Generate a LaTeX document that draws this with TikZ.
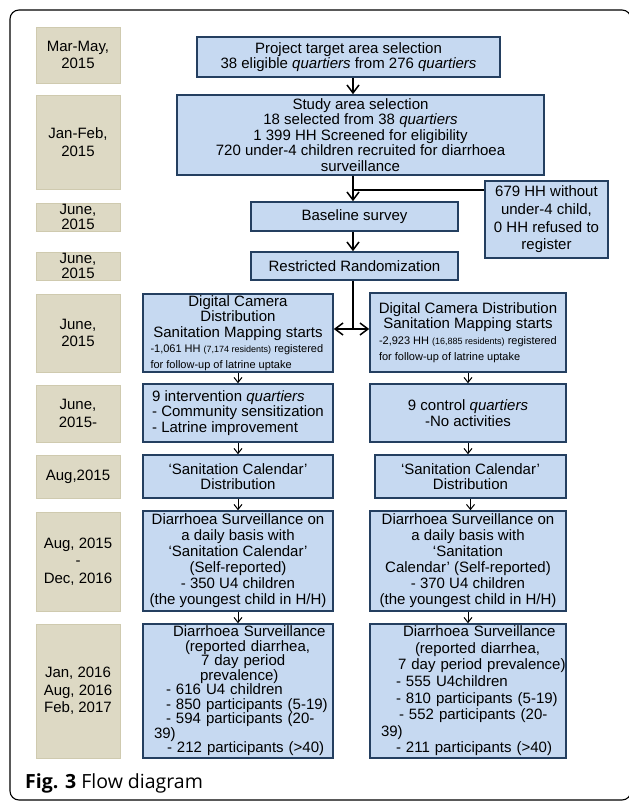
\documentclass[tikz,border=0pt]{standalone}
\usepackage{fontspec}
\usepackage{tikz}
\usetikzlibrary{arrows.meta}
\setmainfont{Liberation Sans}
\newfontfamily\capfont{Open Sans}
\definecolor{flowblue}{HTML}{C6D9F1}
\definecolor{flowedge}{HTML}{243F60}
\definecolor{datetan}{HTML}{DDD9C4}
\definecolor{dateedge}{HTML}{CFCAAF}

\begin{document}
\begin{tikzpicture}[
    x=1pt, y=-1pt,
    txt/.style={
        font=\fontsize{15}{15.6}\selectfont,
        align=center,
        inner sep=0pt
    },
    datebox/.style={
        txt,
        font=\fontsize{15}{17.3}\selectfont,
        fill=datetan,
        draw=dateedge,
        line width=0.8pt,
        minimum width=84pt
    },
    flowbox/.style={
        txt,
        fill=flowblue,
        draw=flowedge,
        line width=1.6pt
    },
    mainarrow/.style={
        line width=1.5pt,
        -{Straight Barb[length=8pt,width=12pt]}
    },
    thinarrow/.style={
        line width=1pt,
        -{Straight Barb[length=5pt,width=8pt]}
    }
]

\useasboundingbox (0,0) rectangle (629,803);

% ============================================================
% Outer frame and caption
% ============================================================

\begin{scope}
    \clip (0,0) rectangle (629,803);
    \draw[line width=1.1pt, rounded corners=9pt] (10,10) rectangle (631,800);
\end{scope}

\node[anchor=west, inner sep=0pt] (caption) at (25,783)
    {\capfont\fontsize{19.5}{22}\selectfont\textbf{Fig. 3} Flow diagram};

% ============================================================
% Dates column
% ============================================================

\node[datebox, minimum height=56pt] (d1) at (78,55)
    {Mar-May,\\2015};

\node[datebox, minimum height=94pt] (d2) at (78,142)
    {Jan-Feb,\\2015};

\node[datebox, minimum height=28pt, font=\fontsize{15}{14.3}\selectfont] (d3) at (78,217)
    {June,\\2015};

\node[datebox, minimum height=28pt, font=\fontsize{15}{14.3}\selectfont] (d4) at (78,266)
    {June,\\2015};

\node[datebox, minimum height=78pt] (d5) at (78,333)
    {June,\\2015};

\node[datebox, minimum height=57pt] (d6) at (78,413.5)
    {June,\\2015-};

\node[datebox, minimum height=43pt] (d7) at (78,476.5)
    {Aug,2015};

\node[datebox, minimum height=99pt] (d8) at (78,561.5)
    {Aug, 2015\\-\\Dec, 2016};

\node[datebox, minimum height=134pt] (d9) at (78,691)
    {Jan, 2016\\Aug, 2016\\Feb, 2017};

% ============================================================
% Common trunk
% ============================================================

\node[flowbox, minimum width=303pt, minimum height=40pt] (proj) at (348.5,57)
    {Project target area selection\\
     38 eligible \textit{quartiers} from 276 \textit{quartiers}};

\node[flowbox, minimum width=367pt, minimum height=80pt] (study) at (360.5,135)
    {Study area selection\\
     18 selected from 38 \textit{quartiers}\\
     1 399 HH Screened for eligibility\\
     720 under-4 children recruited for diarrhoea\\
     surveillance};

\node[flowbox, minimum width=123pt, minimum height=77pt,
      font=\fontsize{15}{17.7}\selectfont] (side) at (546.5,219.5)
    {679 HH without\\under-4 child,\\0 HH refused to\\register};

\node[flowbox, minimum width=207pt, minimum height=29pt] (base) at (354.5,216.5)
    {Baseline survey};

\node[flowbox, minimum width=207pt, minimum height=28pt] (rand) at (354.5,266)
    {Restricted Randomization};

% ============================================================
% Intervention arm (left)
% ============================================================

\node[flowbox, minimum width=190pt, minimum height=78pt] (dcl) at (238,333)
    {Digital Camera\\
     Distribution\\
     Sanitation Mapping starts\\
     {\fontsize{11}{13}\selectfont\makebox[175pt][l]{-1,061 HH {\fontsize{9}{13}\selectfont(7,174 residents)} registered}}\\
     {\fontsize{11}{13}\selectfont\makebox[175pt][l]{for follow-up of latrine uptake}}};

\node[flowbox, minimum width=190pt, minimum height=58pt, align=left] (intl) at (238,413)
    {9 intervention \textit{quartiers}\\
     - Community sensitization\\
     - Latrine improvement};

\node[flowbox, minimum width=190pt, minimum height=43pt] (call) at (238,476.5)
    {‘Sanitation Calendar’\\Distribution};

\node[flowbox, minimum width=190pt, minimum height=100pt,
      font=\fontsize{15}{16}\selectfont] (dayl) at (238,561)
    {Diarrhoea Surveillance on\\
     a daily basis with\\
     ‘Sanitation Calendar’\\
     (Self-reported)\\
     - 350 U4 children\\
     (the youngest child in H/H)};

\node[flowbox, minimum width=190pt, minimum height=134pt, text width=190pt,
      align=left, font=\fontsize{15}{14.5}\selectfont] (finl) at (238,691)
    {\hspace*{30pt}Diarrhoea Surveillance\\
     \hspace*{42pt}(reported diarrhea,\\
     \hspace*{58pt}7 day period\\
     \hspace*{57pt}prevalence)\\
     \hspace*{23pt}- 616 U4 children\\
     \hspace*{23pt}- 850 participants (5-19)\\
     \hspace*{23pt}- 594 participants (20-\\
     \hspace*{11pt}39)\\
     \hspace*{24pt}- 212 participants (>40)};

% ============================================================
% Control arm (right)
% ============================================================

\node[flowbox, minimum width=196pt, minimum height=79pt] (dcr) at (468,332.5)
    {Digital Camera Distribution\\
     Sanitation Mapping starts\\
     {\fontsize{11}{13}\selectfont\makebox[178pt][l]{-2,923 HH {\fontsize{9}{13}\selectfont(16,885 residents)} registered}}\\
     {\fontsize{11}{13}\selectfont\makebox[178pt][l]{for follow-up of latrine uptake}}};

\node[flowbox, minimum width=196pt, minimum height=58pt] (ctrl) at (468,413)
    {9 control \textit{quartiers}\\-No activities};

\node[flowbox, minimum width=191pt, minimum height=43pt] (calr) at (470.5,476.5)
    {‘Sanitation Calendar’\\Distribution};

\node[flowbox, minimum width=196pt, minimum height=100pt,
      font=\fontsize{15}{16}\selectfont] (dayr) at (468,561)
    {Diarrhoea Surveillance on\\
     a daily basis with\\
     ‘Sanitation\\
     Calendar’ (Self-reported)\\
     - 370 U4 children\\
     (the youngest child in H/H)};

\node[flowbox, minimum width=196pt, minimum height=134pt, text width=196pt,
      align=left, font=\fontsize{15}{16.6}\selectfont] (finr) at (468,691)
    {\hspace*{33pt}Diarrhoea Surveillance\\
     \hspace*{45pt}(reported diarrhea,\\
     \hspace*{28pt}7 day period prevalence)\\
     \hspace*{26pt}- 555 U4children\\
     \hspace*{26pt}- 810 participants (5-19)\\
     \hspace*{29pt}- 552 participants (20-\\
     \hspace*{11pt}39)\\
     \hspace*{26pt}- 211 participants (>40)};

% ============================================================
% Connectors
% ============================================================

\coordinate (spine) at (353,0);
\coordinate (sidejoin) at (353,190);
\coordinate (fork) at (353,329);

\draw[mainarrow] (proj.south -| spine) -- (study.north -| spine);
\draw[mainarrow] (study.south -| spine) -- (base.north -| spine);
\draw[line width=1.5pt] (sidejoin) -- (sidejoin -| side.west);
\draw[mainarrow] (base.south -| spine) -- (rand.north -| spine);
\draw[line width=1.5pt] (rand.south -| spine) -- (fork);
\draw[mainarrow, {Straight Barb[length=8pt,width=12pt]}-{Straight Barb[length=8pt,width=12pt]}]
    (fork -| dcl.east) -- (fork -| dcr.west);

\draw[thinarrow] (dcl.south) -- (intl.north);
\draw[thinarrow] (intl.south) -- (call.north);
\draw[thinarrow] (call.south) -- (dayl.north);
\draw[thinarrow] (dayl.south) -- (finl.north);

\draw[thinarrow] (dcr.south) -- (ctrl.north);
\draw[thinarrow] (ctrl.south) -- (ctrl.south |- calr.north);
\draw[thinarrow] (calr.south) -- (calr.south |- dayr.north);
\draw[thinarrow] (dayr.south) -- (finr.north);

\end{tikzpicture}
\end{document}
